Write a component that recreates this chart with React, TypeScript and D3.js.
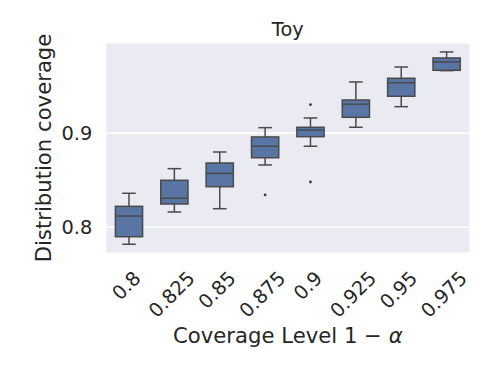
import React, { useEffect, useRef } from "react";
import * as d3 from "d3";

const categories = ["0.8", "0.825", "0.85", "0.875", "0.9", "0.925", "0.95", "0.975"];
const whiskerHigh = [0.8362, 0.8624, 0.8801, 0.906, 0.9163, 0.9546, 0.9705, 0.9865];
const q3 = [0.8223, 0.85, 0.8684, 0.8961, 0.9064, 0.9354, 0.9585, 0.9801];
const median = [0.812, 0.8309, 0.8574, 0.8862, 0.9035, 0.9309, 0.9538, 0.9759];
const q1 = [0.79, 0.8248, 0.8432, 0.874, 0.8964, 0.917, 0.9394, 0.967];
const whiskerLow = [0.782, 0.8163, 0.8198, 0.8663, 0.8862, 0.9064, 0.9283, 0.9666];
const outlierCategory = ["0.875", "0.9", "0.9"];
const outlierValue = [0.8344, 0.9304, 0.8482];
const yTicks = [0.8, 0.9];
const yDomain = [0.773, 0.9957];

const W = 498;
const H = 374;
const FONT = "'DejaVu Sans', sans-serif";
const TEXT = "#262626";

export default function App() {
  const ref = useRef<SVGSVGElement>(null);
  useEffect(() => {
    const svg = d3.select(ref.current);
    svg.selectAll("*").remove();
    const left = 106.3, right = 469.3, top = 43.3, bottom = 252.7;
    const x = d3.scaleBand<string>().domain(categories).range([left, right]).padding(0);
    const y = d3.scaleLinear().domain(yDomain).range([bottom, top]);

    svg.append("rect").attr("x", left).attr("y", top).attr("width", right - left)
      .attr("height", bottom - top).attr("fill", "#eaeaf2");

    svg.append("g").selectAll("line").data(yTicks).join("line")
      .attr("x1", left).attr("x2", right)
      .attr("y1", (d) => y(d)).attr("y2", (d) => y(d))
      .attr("stroke", "#ffffff").attr("stroke-width", 1.6);

    svg.append("g").selectAll("text").data(yTicks).join("text")
      .attr("x", left - 14).attr("y", (d) => y(d)).attr("dy", "0.36em")
      .attr("text-anchor", "end").attr("font-family", FONT).attr("font-size", 19.4)
      .attr("fill", TEXT).text((d) => d3.format(".1f")(d));

    const bw = x.bandwidth();
    const boxW = bw * 0.6;
    const capW = boxW / 2;
    const lineC = "#4a4a4a";
    const g = svg.append("g");
    categories.forEach((c, i) => {
      const cx = x(c)! + bw / 2;
      g.append("line").attr("x1", cx).attr("x2", cx).attr("y1", y(q3[i])).attr("y2", y(whiskerHigh[i]))
        .attr("stroke", lineC).attr("stroke-width", 1.5);
      g.append("line").attr("x1", cx).attr("x2", cx).attr("y1", y(q1[i])).attr("y2", y(whiskerLow[i]))
        .attr("stroke", lineC).attr("stroke-width", 1.5);
      g.append("line").attr("x1", cx - capW / 2).attr("x2", cx + capW / 2)
        .attr("y1", y(whiskerHigh[i])).attr("y2", y(whiskerHigh[i]))
        .attr("stroke", lineC).attr("stroke-width", 1.5);
      g.append("line").attr("x1", cx - capW / 2).attr("x2", cx + capW / 2)
        .attr("y1", y(whiskerLow[i])).attr("y2", y(whiskerLow[i]))
        .attr("stroke", lineC).attr("stroke-width", 1.5);
      g.append("rect").attr("x", cx - boxW / 2).attr("width", boxW)
        .attr("y", y(q3[i])).attr("height", y(q1[i]) - y(q3[i]))
        .attr("fill", "#5975a4").attr("stroke", lineC).attr("stroke-width", 1.5);
      g.append("line").attr("x1", cx - boxW / 2).attr("x2", cx + boxW / 2)
        .attr("y1", y(median[i])).attr("y2", y(median[i]))
        .attr("stroke", lineC).attr("stroke-width", 1.5);
    });
    g.selectAll("circle").data(outlierValue).join("circle")
      .attr("cx", (_d, i) => x(outlierCategory[i])! + bw / 2)
      .attr("cy", (d) => y(d)).attr("r", 1.4).attr("fill", "#3a3a3a");

    // x tick labels rotated 45deg, matplotlib-style center/top alignment
    const fs = 19.4;
    const labelTop = 269;
    const xl = svg.append("g");
    categories.forEach((c) => {
      const t = xl.append("text").attr("font-family", FONT).attr("font-size", fs)
        .attr("fill", TEXT).attr("text-anchor", "middle").attr("dy", "0.26em").text(c);
      const w = (t.node() as SVGTextElement).getComputedTextLength();
      const hh = fs * 1.0;
      const half = (w + hh) / (2 * Math.SQRT2);
      const cx = x(c)! + bw / 2 - 1.5;
      const cy = labelTop + half;
      t.attr("transform", `translate(${cx},${cy}) rotate(-45)`);
    });

    const labelFs = 21.2;
    const xLab = svg.append("text").attr("x", (left + right) / 2).attr("y", 343)
      .attr("text-anchor", "middle").attr("font-family", FONT).attr("font-size", labelFs).attr("fill", TEXT);
    xLab.append("tspan").text("Coverage Level 1 \u2212 ");
    xLab.append("tspan").attr("font-style", "italic").text("\u03b1");

    svg.append("text").attr("transform", `translate(51,${(top + bottom) / 2}) rotate(-90)`)
      .attr("text-anchor", "middle").attr("font-family", FONT).attr("font-size", labelFs)
      .attr("fill", TEXT).text("Distribution coverage");

    svg.append("text").attr("x", (left + right) / 2).attr("y", 36).attr("text-anchor", "middle")
      .attr("font-family", FONT).attr("font-size", 19.4).attr("fill", TEXT).text("Toy");
  }, []);
  return (
    <svg ref={ref} width={W} height={H}
      style={{ position: "absolute", left: 0, top: 0, background: "#ffffff" }} />
  );
}
